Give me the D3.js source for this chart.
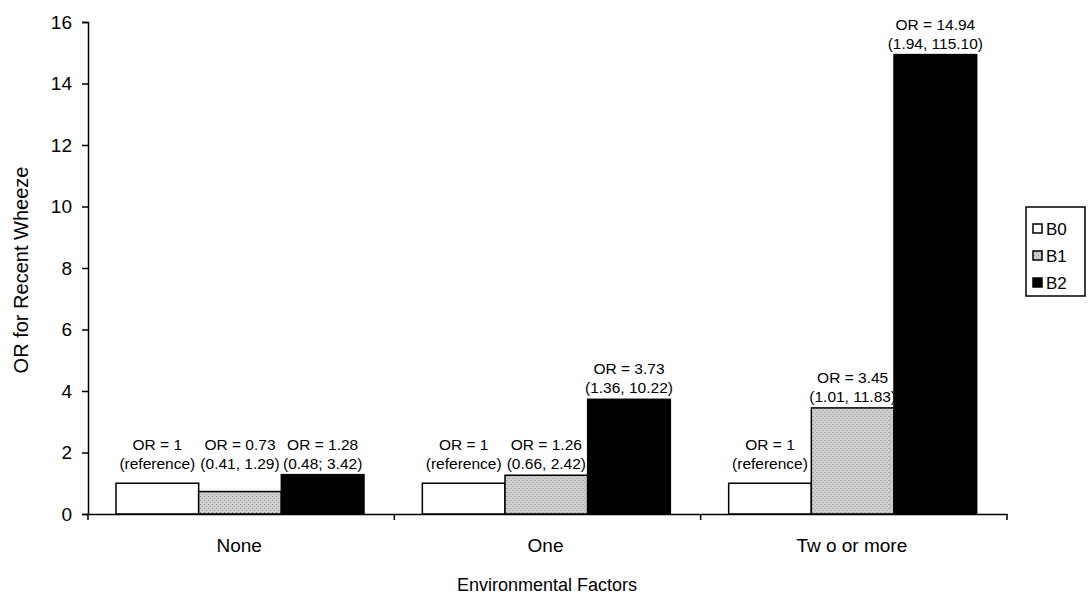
<!DOCTYPE html>
<html lang="en">
<head>
<meta charset="UTF-8"/>
<title>OR for Recent Wheeze</title>
<style>
  body { margin: 0; background: #fff; }
  text { font-family: "Liberation Sans", Arial, sans-serif; fill: #000; }
</style>
<script src="https://d3js.org/d3.v7.min.js"></script>
</head>
<body>
<div id="chart"></div>
<script>
// data
var categories = ["None", "One", "Tw o or more"];
var seriesNames = ["B0", "B1", "B2"];
var seriesColors = ["#ffffff", "url(#stipple)", "#000000"];
var valuesB0 = [1, 1, 1];
var valuesB1 = [0.73, 1.26, 3.45];
var valuesB2 = [1.28, 3.73, 14.94];
var labelTop = [
  ["OR = 1", "OR = 0.73", "OR = 1.28"],
  ["OR = 1", "OR = 1.26", "OR = 3.73"],
  ["OR = 1", "OR = 3.45", "OR = 14.94"]
];
var labelBottom = [
  ["(reference)", "(0.41, 1.29)", "(0.48; 3.42)"],
  ["(reference)", "(0.66, 2.42)", "(1.36, 10.22)"],
  ["(reference)", "(1.01, 11.83)", "(1.94, 115.10)"]
];
var yTicks = [0, 2, 4, 6, 8, 10, 12, 14, 16];

var w = 1088, h = 598;
var svg = d3.select("#chart").append("svg")
  .attr("width", w)
  .attr("height", h);

// light grey stipple for B1
var pat = svg.append("defs").append("pattern")
  .attr("id", "stipple")
  .attr("patternUnits", "userSpaceOnUse")
  .attr("width", 4).attr("height", 4);
pat.append("rect").attr("width", 4).attr("height", 4).attr("fill", "#cfcfcf");
pat.append("rect").attr("x", 0).attr("y", 0).attr("width", 1).attr("height", 1).attr("fill", "#8a8a8a");
pat.append("rect").attr("x", 2).attr("y", 2).attr("width", 1).attr("height", 1).attr("fill", "#9a9a9a");

var xScale = d3.scaleBand()
  .domain(categories)
  .range([88, 1007])
  .paddingInner(0);

var inner = d3.scaleBand()
  .domain(seriesNames)
  .range([28, 276]);

var yScale = d3.scaleLinear()
  .domain([0, 16])
  .range([514, 22]);

var allValues = [valuesB0, valuesB1, valuesB2];

// labels of the short bars share one row, just above the tallest short bar
var shortMax = d3.max(d3.merge(allValues).filter(function(v) { return v < 2; }));

// bars
categories.forEach(function(cat, ci) {
  var g = svg.append("g").attr("transform", "translate(" + xScale(cat) + ",0)");
  seriesNames.forEach(function(s, si) {
    var v = allValues[si][ci];
    g.append("rect")
      .attr("x", inner(s))
      .attr("y", yScale(v))
      .attr("width", inner.bandwidth())
      .attr("height", yScale(0) - yScale(v))
      .attr("fill", seriesColors[si])
      .attr("stroke", "#000")
      .attr("stroke-width", 1.5);
    var cx = inner(s) + inner.bandwidth() / 2;
    var ly = yScale(Math.max(v, shortMax));
    g.append("text")
      .attr("x", cx)
      .attr("y", ly - 25)
      .attr("text-anchor", "middle")
      .style("font-size", "15.5px")
      .text(labelTop[ci][si]);
    g.append("text")
      .attr("x", cx)
      .attr("y", ly - 6)
      .attr("text-anchor", "middle")
      .style("font-size", "15.5px")
      .text(labelBottom[ci][si]);
  });
});

// y axis
var yAxis = d3.axisLeft(yScale).tickValues(yTicks).tickSize(6).tickFormat(d3.format("d"));
var yg = svg.append("g").attr("transform", "translate(88,0)").call(yAxis);
yg.select(".domain").attr("stroke", "#000").attr("stroke-width", 1.5);
yg.selectAll(".tick line").attr("stroke", "#000").attr("stroke-width", 1.5);
yg.selectAll(".tick text")
  .attr("x", -16)
  .style("font-size", "19px")
  .style("font-family", "'Liberation Sans', Arial, sans-serif");

// x axis
var xAxis = d3.axisBottom(xScale).tickSize(0).tickFormat("");
var xg = svg.append("g").attr("transform", "translate(0,514)").call(xAxis);
xg.select(".domain").attr("stroke", "#000").attr("stroke-width", 1.5);
xg.selectAll(".tick").remove();
var boundaries = categories.map(function(c) { return xScale(c); }).concat([xScale.range()[1]]);
xg.selectAll(".sep").data(boundaries).enter().append("line")
  .attr("x1", function(d) { return d; })
  .attr("x2", function(d) { return d; })
  .attr("y1", 0)
  .attr("y2", 6)
  .attr("stroke", "#000")
  .attr("stroke-width", 1.5);
svg.selectAll(".catlabel").data(categories).enter().append("text")
  .attr("x", function(d) { return xScale(d) + xScale.bandwidth() / 2 - 2; })
  .attr("y", 552)
  .attr("text-anchor", "middle")
  .style("font-size", "19px")
  .text(function(d) { return d; });

// axis titles
svg.append("text")
  .attr("transform", "translate(28,270) rotate(-90)")
  .attr("text-anchor", "middle")
  .style("font-size", "20px")
  .text("OR for Recent Wheeze");
svg.append("text")
  .attr("x", 547)
  .attr("y", 591)
  .attr("text-anchor", "middle")
  .style("font-size", "18px")
  .text("Environmental Factors");

// legend
var legend = svg.append("g").attr("transform", "translate(1026,207)");
legend.append("rect")
  .attr("width", 59).attr("height", 89)
  .attr("fill", "#fff").attr("stroke", "#000").attr("stroke-width", 1.5);
seriesNames.forEach(function(s, i) {
  legend.append("rect")
    .attr("x", 7).attr("y", 17 + i * 27)
    .attr("width", 9).attr("height", 9)
    .attr("fill", seriesColors[i]).attr("stroke", "#000").attr("stroke-width", 1.5);
  legend.append("text")
    .attr("x", 20).attr("y", 28 + i * 27)
    .style("font-size", "17px")
    .text(s);
});
</script>
</body>
</html>
